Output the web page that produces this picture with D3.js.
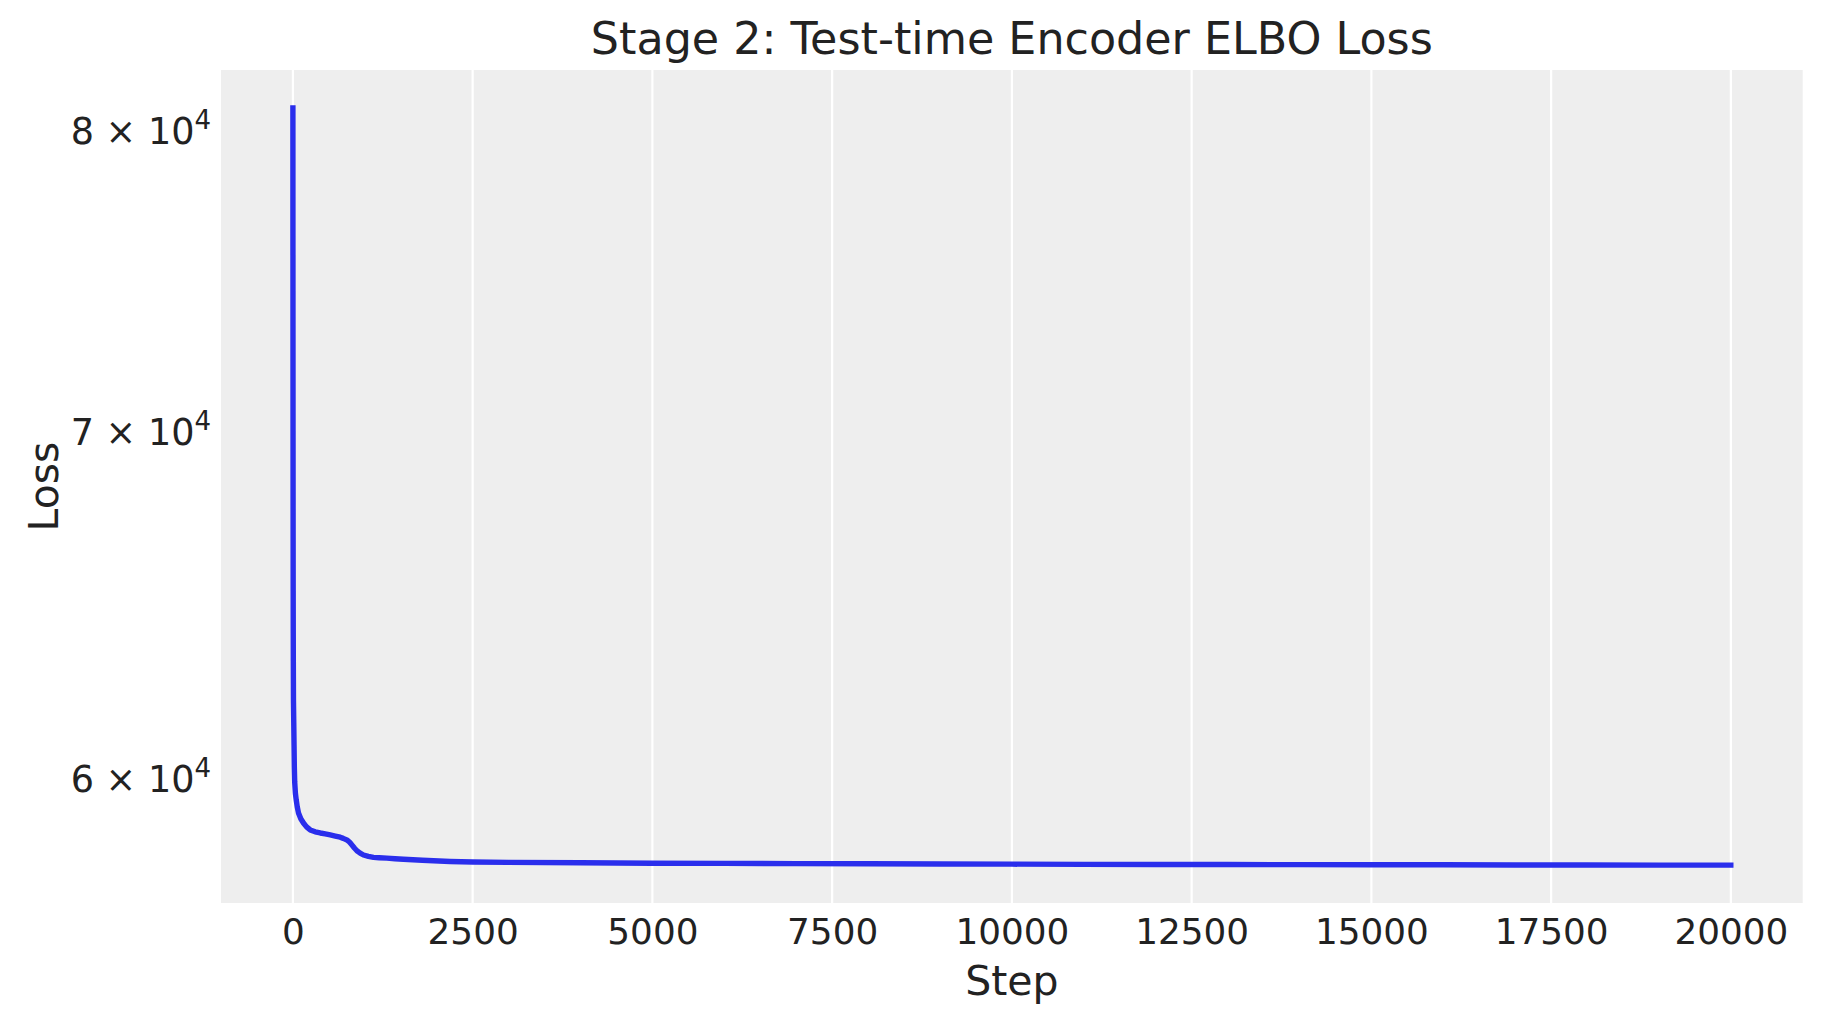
<!DOCTYPE html>
<html>
<head>
<meta charset="utf-8">
<script src="https://cdn.jsdelivr.net/npm/d3@7"></script>
<style>
  html, body { margin: 0; padding: 0; background: #ffffff; }
  svg { display: block; }
  text { font-family: "DejaVu Sans", sans-serif; fill: #222222; }
</style>
</head>
<body>
<svg id="chart" width="1823" height="1023"></svg>
<script>
// ---- Data ----
const steps = [0, 1, 2, 3, 4, 5, 6, 8, 12, 16, 20, 25, 35, 46, 60, 78, 110, 147, 190, 241, 310, 380, 450, 519, 590, 658, 700, 751, 790, 820, 855, 890, 935, 982, 1050, 1121, 1200, 1307, 1420, 1538, 1800, 2187, 2500, 3000, 4000, 5000, 6000, 7000, 8000, 9000, 10000, 11000, 12000, 13000, 14000, 15000, 16000, 17000, 18000, 19000, 19999];
const lossValues = [80800, 74500, 70000, 67000, 65200, 64000, 63200, 62100, 61500, 60900, 60300, 59900, 59600, 59430, 59250, 59080, 58930, 58820, 58720, 58640, 58590, 58560, 58535, 58510, 58480, 58450, 58420, 58380, 58320, 58250, 58170, 58100, 58040, 57990, 57955, 57930, 57920, 57910, 57895, 57880, 57855, 57825, 57810, 57800, 57790, 57780, 57775, 57770, 57765, 57760, 57755, 57750, 57748, 57745, 57742, 57740, 57738, 57735, 57733, 57731, 57730];
const xTickValues = [0, 2500, 5000, 7500, 10000, 12500, 15000, 17500, 20000];
const yTickValues = [60000, 70000, 80000];
const yTickMantissa = ["6", "7", "8"];
const yTickExponent = ["4", "4", "4"];
const titleText = "Stage 2: Test-time Encoder ELBO Loss";
const xLabelText = "Step";
const yLabelText = "Loss";

// ---- Layout ----
const W = 1823, H = 1023;
const plot = { left: 221, top: 70, right: 1802.7, bottom: 903 };
const svg = d3.select("#chart");

// matplotlib-like 5% margins
const xMin = d3.min(steps), xMax = d3.max(steps);
const xPad = (xMax - xMin) * 0.05;
const x = d3.scaleLinear().domain([xMin - xPad, xMax + xPad]).range([plot.left, plot.right]);

const lMin = Math.log10(d3.min(lossValues)), lMax = Math.log10(d3.max(lossValues));
const lPad = (lMax - lMin) * 0.05;
const y = d3.scaleLog().domain([Math.pow(10, lMin - lPad), Math.pow(10, lMax + lPad)]).range([plot.bottom, plot.top]);

// background
svg.append("rect")
  .attr("x", plot.left).attr("y", plot.top)
  .attr("width", plot.right - plot.left).attr("height", plot.bottom - plot.top)
  .attr("fill", "#eeeeee");

// vertical grid lines
svg.append("g").selectAll("line").data(xTickValues).join("line")
  .attr("x1", d => x(d)).attr("x2", d => x(d))
  .attr("y1", plot.top).attr("y2", plot.bottom)
  .attr("stroke", "#ffffff").attr("stroke-width", 2.2);

// line
const data = steps.map((s, i) => ({ s, v: lossValues[i] }));
const line = d3.line().x(d => x(d.s)).y(d => y(d.v));
svg.append("path")
  .datum(data)
  .attr("d", line)
  .attr("fill", "none")
  .attr("stroke", "#2a2eec")
  .attr("stroke-width", 5.4)
  .attr("stroke-linejoin", "round")
  .attr("stroke-linecap", "square");

// x axis
const xAxis = d3.axisBottom(x).tickValues(xTickValues).tickSize(0).tickFormat(d3.format("d"));
const gx = svg.append("g").attr("transform", `translate(0,${plot.bottom})`).call(xAxis);
gx.select(".domain").remove();
gx.selectAll("text")
  .attr("y", 41).attr("dy", null)
  .attr("font-size", 35.8)
  .attr("font-family", "DejaVu Sans")
  .attr("fill", "#222222");

// y axis
const yAxis = d3.axisLeft(y).tickValues(yTickValues).tickSize(0).tickFormat(() => "");
const gy = svg.append("g").attr("transform", `translate(${plot.left},0)`).call(yAxis);
gy.select(".domain").remove();
gy.selectAll(".tick text").each(function(d) {
  const i = yTickValues.indexOf(d);
  const t = d3.select(this)
    .attr("x", 211 - plot.left).attr("dy", "0.37em")
    .attr("text-anchor", "end")
    .attr("font-size", 36.6)
    .attr("font-family", "DejaVu Sans")
    .attr("fill", "#222222");
  t.text(null);
  t.append("tspan").text(yTickMantissa[i] + " \u00d7 10");
  t.append("tspan").attr("font-size", 26).attr("dy", -15).text(yTickExponent[i]);
});

// title & labels
svg.append("text")
  .attr("x", (plot.left + plot.right) / 2).attr("y", 54)
  .attr("text-anchor", "middle").attr("font-size", 44.4)
  .text(titleText);

svg.append("text")
  .attr("x", (plot.left + plot.right) / 2).attr("y", 995)
  .attr("text-anchor", "middle").attr("font-size", 41)
  .text(xLabelText);

svg.append("text")
  .attr("transform", `translate(58,${(plot.top + plot.bottom) / 2}) rotate(-90)`)
  .attr("text-anchor", "middle").attr("font-size", 41)
  .text(yLabelText);
</script>
</body>
</html>
